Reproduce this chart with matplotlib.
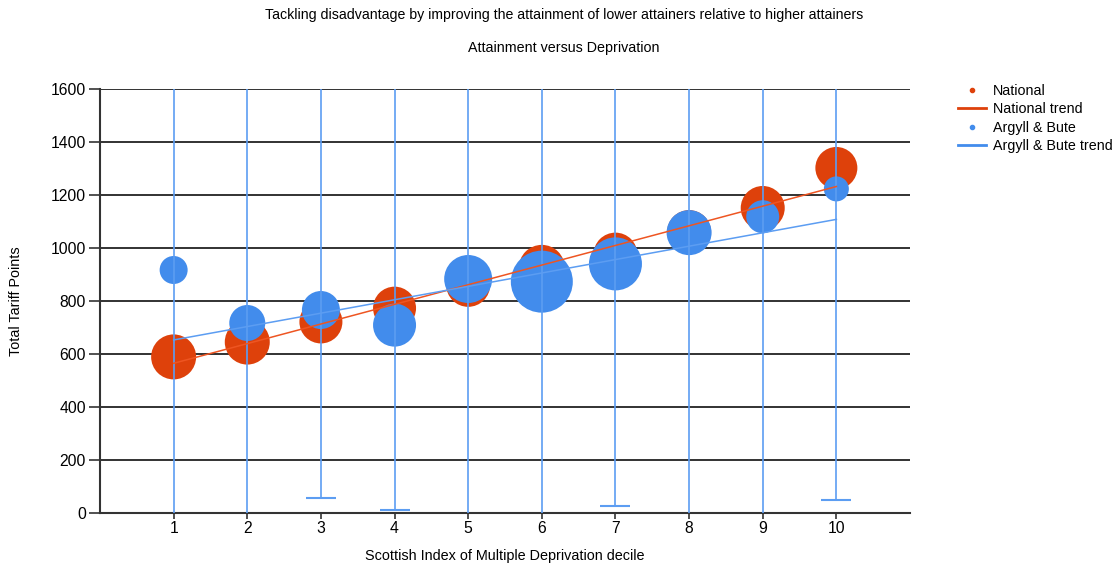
import matplotlib
matplotlib.use("Agg")
import matplotlib.pyplot as plt
from matplotlib.lines import Line2D
import numpy as np

plt.rcParams['font.family'] = ['Liberation Sans', 'DejaVu Sans']

deciles = [1, 2, 3, 4, 5, 6, 7, 8, 9, 10]
national = [589, 645, 721, 773, 861, 925, 975, 1060, 1151, 1302]
national_bubble = [45, 45, 43, 43, 44, 46, 44, 44, 44, 42]
argyll = [917, 717, 766, 709, 883, 873, 940, 1058, 1118, 1223]
argyll_bubble = [28, 36, 38, 43, 48, 62, 53, 45, 33, 25]
argyll_low = [-100, -100, 55, 11, -100, -100, 26, -100, -100, 49]
argyll_high = [1800] * 10
national_trend = [565, 1232]
argyll_trend = [653, 1108]
trend_x = [1, 10]
yticks = [0, 200, 400, 600, 800, 1000, 1200, 1400, 1600]

RED = '#DE410B'
BLUE = '#428CEC'
EBLUE = '#5C9DF2'

W, H = 1115, 569
fig = plt.figure(figsize=(W / 100, H / 100), dpi=100)
ax = fig.add_axes([100 / W, 1 - 513 / H, 810 / W, 424 / H])

px2pt = 0.72
ax.scatter(deciles, national, s=(np.array(national_bubble) * px2pt) ** 2,
           color=RED, edgecolors='none', zorder=3)
ax.scatter(deciles, argyll, s=(np.array(argyll_bubble) * px2pt) ** 2,
           color=BLUE, edgecolors='none', zorder=4)

arg = np.array(argyll)
yerr = np.vstack([arg - np.array(argyll_low), np.array(argyll_high) - arg])
ax.errorbar(deciles, argyll, yerr=yerr, fmt='none', ecolor=EBLUE,
            elinewidth=1.2, capsize=10.5, capthick=1.5, zorder=5)

ax.plot(trend_x, national_trend, color='#EE5522', lw=1.1, zorder=6)
ax.plot(trend_x, argyll_trend, color='#5C9DF2', lw=1.1, zorder=6)

ax.set_xlim(0, 11)
ax.set_ylim(0, 1600)
ax.set_xticks(deciles)
ax.set_yticks(yticks)
ax.yaxis.grid(True, color='#222222', lw=1.3)
ax.set_axisbelow(True)
for s in ['top', 'right']:
    ax.spines[s].set_visible(False)
for s in ['left', 'bottom']:
    ax.spines[s].set_color('#333333')
    ax.spines[s].set_linewidth(1.5)
ax.tick_params(axis='y', length=8, width=1.2, color='#333333', labelsize=11.3, pad=2)
ax.tick_params(axis='x', length=4, width=1.2, color='#333333', labelsize=11.3, pad=2)

ax.set_ylabel('Total Tariff Points', fontsize=10.4, labelpad=20)
ax.set_xlabel('Scottish Index of Multiple Deprivation decile', fontsize=10.4, labelpad=9)

fig.text(564 / W, 1 - 15 / H,
         'Tackling disadvantage by improving the attainment of lower attainers relative to higher attainers',
         ha='center', va='center', fontsize=10.2)
fig.text(564 / W, 1 - 48 / H, 'Attainment versus Deprivation',
         ha='center', va='center', fontsize=10.3)

handles = [
    Line2D([], [], ls='none', marker='o', ms=3, color=RED),
    Line2D([], [], color=RED, lw=2),
    Line2D([], [], ls='none', marker='o', ms=3, color=BLUE),
    Line2D([], [], color=BLUE, lw=2),
]
labels = ['National', 'National trend', 'Argyll & Bute', 'Argyll & Bute trend']
fig.legend(handles, labels, loc='upper left', bbox_to_anchor=(958 / W, 1 - 84 / H),
           frameon=False, fontsize=10.3, handlelength=1.96, handletextpad=0.5,
           labelspacing=0.3, borderaxespad=0, borderpad=0)

fig.savefig('out.png', dpi=100)
